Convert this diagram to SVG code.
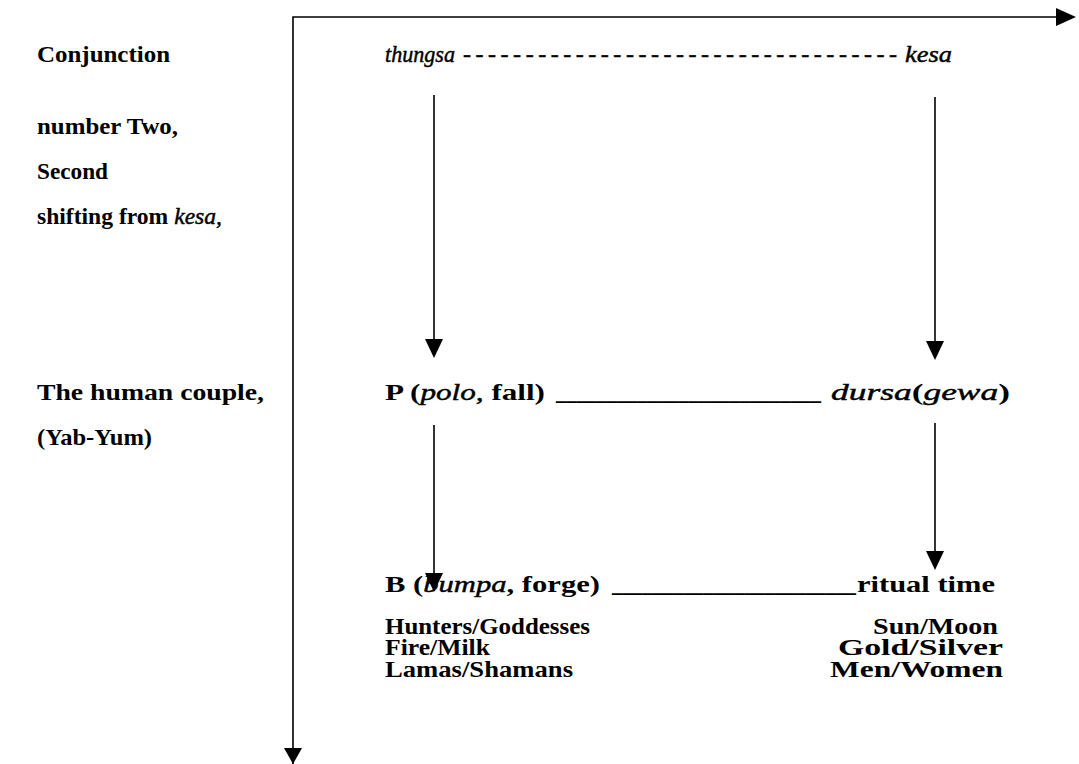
<svg xmlns="http://www.w3.org/2000/svg" width="1079" height="764" viewBox="0 0 1079 764">
<style>
text{font-family:"Liberation Serif","DejaVu Serif",serif;font-weight:bold;font-size:24px;fill:#000}
.i{font-style:italic;font-weight:normal;stroke:#000;stroke-width:0.45}
.ln{stroke:#000;stroke-width:1.6;fill:none}
.head{fill:#000}
</style>
<rect width="1079" height="764" fill="#fff"/>
<g id="connectors">
<path class="ln" d="M293,764 V17 H1058"/>
<path class="head" d="M1076,17 L1056,8 L1056,26 Z"/>
<path class="head" d="M293,764 L284,748 L302,748 Z"/>
<line class="ln" x1="434" y1="95" x2="434" y2="342"/>
<path class="head" d="M434,358 L425,339 L443,339 Z"/>
<line class="ln" x1="935" y1="97" x2="935" y2="344"/>
<path class="head" d="M935,360 L926,341 L944,341 Z"/>
<line class="ln" x1="434" y1="425" x2="434" y2="576"/>
<path class="head" d="M434,592 L425,573 L443,573 Z"/>
<line class="ln" x1="935" y1="423" x2="935" y2="554"/>
<path class="head" d="M935,570 L926,551 L944,551 Z"/>
</g>
<g id="left-labels">
<text x="37" y="62" textLength="133" lengthAdjust="spacingAndGlyphs">Conjunction</text>
<text x="37" y="134" textLength="141" lengthAdjust="spacingAndGlyphs">number Two,</text>
<text x="37" y="179" textLength="71" lengthAdjust="spacingAndGlyphs">Second</text>
<text x="37" y="224" textLength="185" lengthAdjust="spacingAndGlyphs">shifting from <tspan class="i">kesa,</tspan></text>
<text x="37" y="400" textLength="227" lengthAdjust="spacingAndGlyphs">The human couple,</text>
<text x="37" y="445" textLength="115" lengthAdjust="spacingAndGlyphs">(Yab-Yum)</text>
</g>
<g id="top-row">
<text x="385" y="62" class="i" textLength="70" lengthAdjust="spacingAndGlyphs">thungsa</text>
<text x="463" y="62" class="i" textLength="434" lengthAdjust="spacing">-----------------------------------</text>
<text x="905" y="62" class="i" textLength="47" lengthAdjust="spacingAndGlyphs">kesa</text>
</g>
<g id="p-row">
<text x="385" y="400" textLength="160" lengthAdjust="spacingAndGlyphs">P (<tspan class="i">polo,</tspan> fall)</text>
<text x="556" y="400" textLength="265" lengthAdjust="spacingAndGlyphs">__________________________</text>
<text x="831" y="400" textLength="179" lengthAdjust="spacingAndGlyphs"><tspan class="i">dursa</tspan>(<tspan class="i">gewa</tspan>)</text>
</g>
<g id="b-row">
<text x="385" y="592" textLength="215" lengthAdjust="spacingAndGlyphs">B (<tspan class="i">bumpa</tspan>, forge)</text>
<text x="612" y="592" textLength="244" lengthAdjust="spacingAndGlyphs">________________________</text>
<text x="857" y="592" textLength="138" lengthAdjust="spacingAndGlyphs">ritual time</text>
</g>
<g id="left-list">
<text x="385" y="634" textLength="205" lengthAdjust="spacingAndGlyphs">Hunters/Goddesses</text>
<text x="385" y="655" textLength="105" lengthAdjust="spacingAndGlyphs">Fire/Milk</text>
<text x="385" y="677" textLength="188" lengthAdjust="spacingAndGlyphs">Lamas/Shamans</text>
</g>
<g id="right-list">
<text x="998" y="634" text-anchor="end" textLength="125" lengthAdjust="spacingAndGlyphs">Sun/Moon</text>
<text x="1003" y="655" text-anchor="end" textLength="165" lengthAdjust="spacingAndGlyphs">Gold/Silver</text>
<text x="1003" y="677" text-anchor="end" textLength="173" lengthAdjust="spacingAndGlyphs">Men/Women</text>
</g>
</svg>
